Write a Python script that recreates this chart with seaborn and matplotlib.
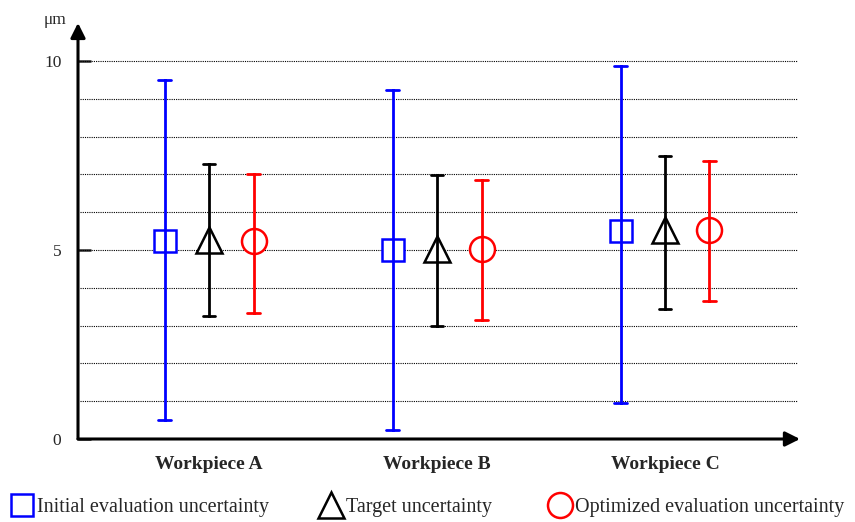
import numpy as np
import pandas as pd
import seaborn as sns
import matplotlib.pyplot as plt
from matplotlib.lines import Line2D

# ---- data (unit: um) ----
workpieces = ["Workpiece A", "Workpiece B", "Workpiece C"]
series = ["Initial evaluation uncertainty", "Target uncertainty",
          "Optimized evaluation uncertainty"]

initial_center = [5.24, 4.99, 5.49]
initial_low = [0.49, 0.24, 0.94]
initial_high = [9.49, 9.23, 9.87]

target_center = [5.26, 5.03, 5.52]
target_low = [3.25, 2.99, 3.45]
target_high = [7.28, 6.98, 7.49]

optimized_center = [5.24, 5.03, 5.54]
optimized_low = [3.34, 3.15, 3.64]
optimized_high = [7.02, 6.84, 7.35]

colors = {series[0]: "#0000ff", series[1]: "black", series[2]: "#ff0000"}
markers = {series[0]: "s", series[1]: "^", series[2]: "o"}
msizes = {series[0]: 15.5, series[1]: 19, series[2]: 18}

# long table: low / center / high per point -> median gives center, min/max the bar
rows = []
for s, c, lo, hi in [(series[0], initial_center, initial_low, initial_high),
                     (series[1], target_center, target_low, target_high),
                     (series[2], optimized_center, optimized_low, optimized_high)]:
    for w, cc, l, h in zip(workpieces, c, lo, hi):
        for v in (l, cc, h):
            rows.append({"workpiece": w, "series": s, "value": v})
df = pd.DataFrame(rows)

sns.set_style("white")
plt.rcParams["font.family"] = ["Liberation Serif", "DejaVu Serif"]

fig = plt.figure(figsize=(8.55, 5.22), dpi=100)
ax = fig.add_axes([78 / 855, 1 - 439 / 522, 722 / 855, 414 / 522])

for s in series:
    sns.pointplot(
        data=df[df["series"] == s], x="workpiece", y="value",
        hue="series", hue_order=series, palette=colors,
        order=workpieces, estimator="median",
        errorbar=lambda v: (v.min(), v.max()),
        dodge=0.39, markers=markers[s], linestyle="none",
        capsize=0.055, err_kws={"linewidth": 2.0, "linestyle": "-"},
        markersize=msizes[s], markeredgewidth=1.8, markerfacecolor="white",
        zorder=5, legend=False, ax=ax,
    )

ax.set_xlim(-0.575, 2.592)
ax.set_ylim(0, 10.95)

# dotted horizontal grid
for y in range(1, 11):
    ax.axhline(y, xmin=0.003, xmax=0.996, color="black",
               linestyle=(0, (1, 1)), linewidth=0.8, zorder=1)

for sp in ax.spines.values():
    sp.set_visible(False)

# axes with arrow heads
ax.annotate("", xy=(0, 1.005), xytext=(0, 0), xycoords="axes fraction",
            arrowprops=dict(arrowstyle="-|>", lw=2.2, color="black",
                            mutation_scale=22, shrinkA=0, shrinkB=0))
ax.annotate("", xy=(1, 0), xytext=(0, 0), xycoords="axes fraction",
            arrowprops=dict(arrowstyle="-|>", lw=2.2, color="black",
                            mutation_scale=22, shrinkA=0, shrinkB=0))

ax.set_yticks([0, 5, 10])
ax.set_yticklabels(["0", "5", "10"])
ax.tick_params(axis="y", direction="in", length=9, width=1.8, pad=12,
               labelsize=12.5, left=True)
ax.tick_params(axis="x", length=0, pad=12)
ax.set_xticks(range(len(workpieces)))
ax.set_xticklabels(workpieces, fontsize=14, fontweight="bold")
ax.set_xlabel("")
ax.set_ylabel("")

fig.text(55 / 855, 1 - 20 / 522, "μm", ha="center", va="center", fontsize=12.5)

# legend along the bottom
leg_x = [12, 321, 550]
for s, lx in zip(series, leg_x):
    h = Line2D([], [], linestyle="none", marker=markers[s], color=colors[s],
               markerfacecolor="white", markersize=msizes[s],
               markeredgewidth=1.8)
    fig.legend(handles=[h], labels=[s], loc="center left",
               bbox_to_anchor=(lx / 855, 1 - 507 / 522), frameon=False,
               handlelength=1.0, handletextpad=0.25, borderpad=0,
               borderaxespad=0, fontsize=14.5)

fig.savefig("out.png", dpi=100)
